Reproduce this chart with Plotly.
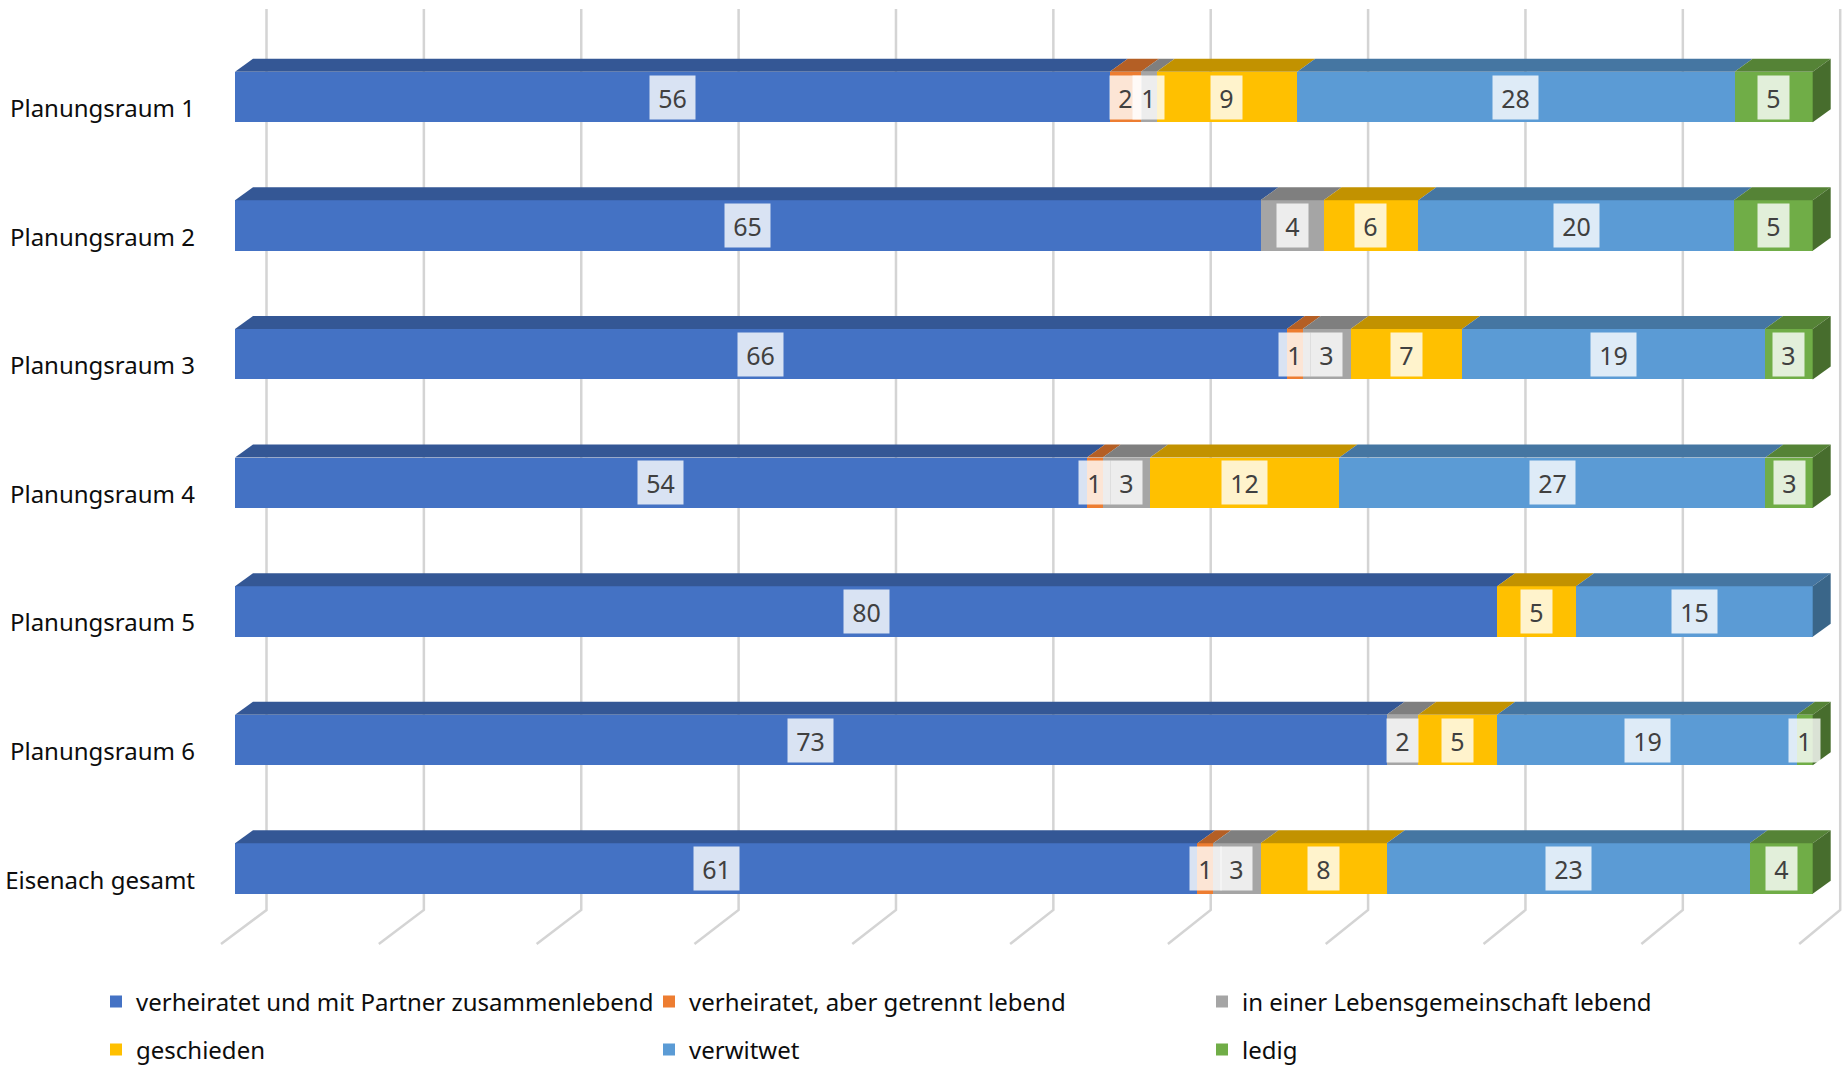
import plotly.graph_objects as go

# ---------------- data ----------------
categories = ["Planungsraum 1", "Planungsraum 2", "Planungsraum 3", "Planungsraum 4",
              "Planungsraum 5", "Planungsraum 6", "Eisenach gesamt"]
series_names = ["verheiratet und mit Partner zusammenlebend",
                "verheiratet, aber getrennt lebend",
                "in einer Lebensgemeinschaft lebend",
                "geschieden", "verwitwet", "ledig"]
verheiratet_zusammen = [56, 65, 66, 54, 80, 73, 61]
verheiratet_getrennt = [2, 0, 1, 1, 0, 0, 1]
lebensgemeinschaft = [1, 4, 3, 3, 0, 2, 3]
geschieden = [9, 6, 7, 12, 5, 5, 8]
verwitwet = [28, 20, 19, 27, 15, 19, 23]
ledig = [5, 5, 3, 3, 0, 1, 4]
grid_ticks = [0, 10, 20, 30, 40, 50, 60, 70, 80, 90, 100]

series_values = [verheiratet_zusammen, verheiratet_getrennt, lebensgemeinschaft,
                 geschieden, verwitwet, ledig]

# ---------------- styles ----------------
front_colors = ["#4472C4", "#ED7D31", "#A5A5A5", "#FFC000", "#5B9BD5", "#70AD47"]
top_colors = ["#345795", "#B45F25", "#7F7F7F", "#C29200", "#4576A2", "#558336"]
side_colors = ["#2B4A80", "#9A4F1E", "#6B6B6B", "#A67C00", "#3A6689", "#476D2D"]
FONT = "Noto Sans"

W, H = 1845, 1066
PLOT_L, PLOT_R, PLOT_T, PLOT_B = 205, 1845, 0, 950      # pixel extents of plot area
FRONT0_PX, FRONT100_PX = 235, 1812.7                      # where 0% / 100% of front face sit
ROW0_PX, ROW_STEP_PX = 97, 128.6                          # first row centre and row step
PXU = (FRONT100_PX - FRONT0_PX) / 100.0                   # px per percent
X_LO = -(FRONT0_PX - PLOT_L) / PXU
X_HI = (PLOT_R - FRONT0_PX) / PXU
Y_TOP = (PLOT_T - ROW0_PX) / ROW_STEP_PX
Y_BOT = (PLOT_B - ROW0_PX) / ROW_STEP_PX

BAR_W = 50.5 / ROW_STEP_PX
DEPTH_DX = 18 / PXU
DEPTH_DY = 13 / ROW_STEP_PX
LABEL_SHIFT = 11.5 / ROW_STEP_PX

def ypx(p):
    return (p - ROW0_PX) / ROW_STEP_PX

GRID_TOP = ypx(9)
FLOOR_BACK = ypx(910)
FLOOR_FRONT = ypx(944)

# legend grid (pixels in page): legend box left edges and row centres
LEG_COL_X = [96, 649, 1202]
LEG_ROW_Y = [1002, 1050]

n_rows = len(categories)
rows = list(range(n_rows))

fig = go.Figure()

legend_ids = ["legend", "legend2", "legend3", "legend4", "legend5", "legend6"]

# front faces (100% stacked)
for k, (name, vals) in enumerate(zip(series_names, series_values)):
    fig.add_trace(go.Bar(
        y=rows, x=vals, orientation="h", name=name, width=BAR_W,
        marker=dict(color=front_colors[k], line=dict(width=0)),
        legend=legend_ids[k],
        hoverinfo="x+name",
    ))

# top faces / side faces / labels computed from normalised data
annotations = []
for r in rows:
    vals = [s[r] for s in series_values]
    total = float(sum(vals))
    cum = 0.0
    last_k = None
    top = r - BAR_W / 2
    bot = r + BAR_W / 2
    for k, v in enumerate(vals):
        if v == 0:
            continue
        x0 = cum
        x1 = cum + v / total * 100.0
        cum = x1
        last_k = k
        fig.add_trace(go.Scatter(
            x=[x0, x1, x1 + DEPTH_DX, x0 + DEPTH_DX, x0],
            y=[top, top, top - DEPTH_DY, top - DEPTH_DY, top],
            mode="lines", fill="toself", fillcolor=top_colors[k],
            line=dict(width=0, color=top_colors[k]), showlegend=False, hoverinfo="skip"))
        nd = len(str(v))
        annotations.append(dict(
            x=(x0 + x1) / 2, y=r, xref="x", yref="y", text=str(v), showarrow=False,
            font=dict(family=FONT, size=25, color="#404040"),
            bgcolor="rgba(255,255,255,0.8)", borderpad=5,
            width=7 + 14 * nd, height=33, align="center", valign="middle"))
    # right side face
    fig.add_trace(go.Scatter(
        x=[100, 100 + DEPTH_DX, 100 + DEPTH_DX, 100, 100],
        y=[top, top - DEPTH_DY, bot - DEPTH_DY, bot, top],
        mode="lines", fill="toself", fillcolor=side_colors[last_k],
        line=dict(width=0, color=side_colors[last_k]), showlegend=False, hoverinfo="skip"))

# back-wall gridlines and floor lines
shapes = []
for g in grid_ticks:
    back_off = (31.5 + (27.5 - 31.5) * g / 100.0) / PXU
    floor_off = (45.5 + (41 - 45.5) * g / 100.0) / PXU
    xb = g + back_off
    xf = xb - floor_off
    shapes.append(dict(
        type="path", xref="x", yref="y", layer="below",
        path=f"M {xb},{GRID_TOP} L {xb},{FLOOR_BACK} L {xf},{FLOOR_FRONT}",
        line=dict(color="#D4D4D4", width=2.5)))

legend_common = dict(
    orientation="h", xref="container", yref="container", xanchor="left", yanchor="middle",
    font=dict(family=FONT, size=24, color="#0d0d0d"),
    itemwidth=30, bgcolor="rgba(0,0,0,0)", traceorder="normal", itemclick=False,
)
legend_layout = {}
for k, lid in enumerate(legend_ids):
    col, row = k % 3, k // 3
    legend_layout[lid] = dict(x=LEG_COL_X[col] / W, y=1 - LEG_ROW_Y[row] / H, **legend_common)

fig.update_layout(
    width=W, height=H,
    margin=dict(l=PLOT_L, r=W - PLOT_R, t=PLOT_T, b=H - PLOT_B, pad=0, autoexpand=False),
    paper_bgcolor="white", plot_bgcolor="white",
    barmode="stack", barnorm="percent", bargap=0,
    font=dict(family=FONT, color="#0d0d0d"),
    xaxis=dict(range=[X_LO, X_HI], showgrid=False, zeroline=False, showline=False,
               showticklabels=False, ticks=""),
    yaxis=dict(range=[Y_BOT, Y_TOP], showgrid=False, zeroline=False, showline=False,
               tickmode="array", tickvals=[r + LABEL_SHIFT for r in rows], ticktext=categories,
               tickfont=dict(family=FONT, size=24, color="#0d0d0d"), ticks="",
               ticklabelstandoff=9),
    shapes=shapes,
    annotations=annotations,
    showlegend=True,
    **legend_layout,
)

fig.write_html("out.html", config={"displayModeBar": False},
               post_script="document.body.style.margin='0px';")
